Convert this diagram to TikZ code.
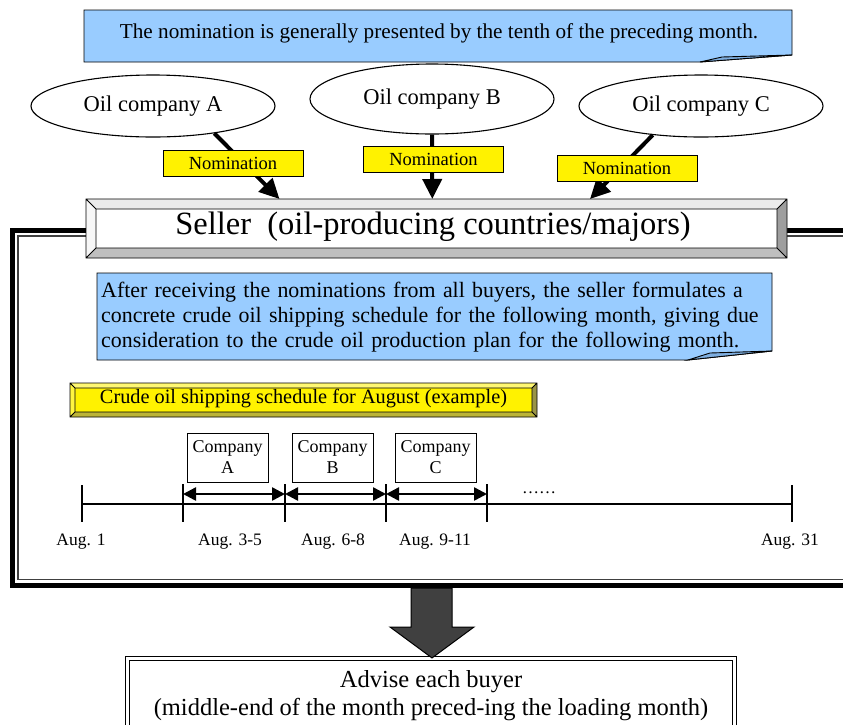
\documentclass[tikz,border=0pt]{standalone}
\usepackage{fontspec}
\setmainfont{Liberation Serif}
\usetikzlibrary{arrows.meta,calc,shapes.geometric,backgrounds}

\definecolor{calloutblue}{HTML}{99CCFF}
\definecolor{flapblue}{HTML}{7EAEE0}
\definecolor{arrowgray}{HTML}{404040}

% bevelled rim drawn inside a rectangular node: name, depth, top, left, bottom, right fills
\newcommand{\bevelrim}[6]{%
  \fill[#3] (#1.north west) -- (#1.north east) -- ($(#1.north east)+(-#2,#2)$) -- ($(#1.north west)+(#2,#2)$) -- cycle;
  \fill[#4] (#1.north west) -- ($(#1.north west)+(#2,#2)$) -- ($(#1.south west)+(#2,-#2)$) -- (#1.south west) -- cycle;
  \fill[#5] (#1.south west) -- ($(#1.south west)+(#2,-#2)$) -- ($(#1.south east)+(-#2,-#2)$) -- (#1.south east) -- cycle;
  \fill[#6] (#1.south east) -- ($(#1.south east)+(-#2,-#2)$) -- ($(#1.north east)+(-#2,#2)$) -- (#1.north east) -- cycle;
  \draw[line width=0.9pt] (#1.north west) rectangle (#1.south east)
    ($(#1.north west)+(#2,#2)$) rectangle ($(#1.south east)+(-#2,-#2)$)
    (#1.north west) -- ++(#2,#2) (#1.north east) -- ++(-#2,#2)
    (#1.south east) -- ++(-#2,-#2) (#1.south west) -- ++(#2,-#2);
}

% note with a folded lower right corner, drawn round a node: name, fold length, fold rise
\newcommand{\foldednote}[3]{%
  \draw[line width=0.9pt, fill=calloutblue] (#1.north west) -- (#1.north east)
    -- ($(#1.south east)+(0,-#3)$) -- ($(#1.south east)+(-#2,0)$) -- (#1.south west) -- cycle;
  \draw[line width=0.9pt, fill=flapblue] ($(#1.south east)+(-#2,0)$)
    -- ($(#1.south east)+(-#2+22,-#3+2)$) -- ($(#1.south east)+(0,-#3)$) -- cycle;
}

\tikzset{
  calloutnote/.style={inner sep=0pt, outer sep=0pt},
  company/.style={ellipse, draw, line width=1.1pt, fill=white, inner sep=0pt,
    minimum width=244pt, minimum height=62pt, font=\fontsize{22.5}{26}\selectfont},
  nomtag/.style={draw, line width=1pt, fill=yellow, inner sep=0pt,
    minimum width=140pt, minimum height=26pt, font=\fontsize{18.5}{21}\selectfont},
  nomarrow/.style={line width=4pt, -{Triangle[length=20pt,width=19pt]}},
  bevelnode/.style={inner sep=0pt, outer sep=0pt},
  buyerbox/.style={draw, line width=1pt, inner sep=0pt, minimum width=81pt,
    minimum height=49pt, align=center, font=\fontsize{18}{21}\selectfont},
  slot/.style={line width=2.5pt, {Triangle[length=13pt,width=13pt]}-{Triangle[length=13pt,width=13pt]}},
  datelbl/.style={inner sep=0pt, font=\fontsize{17.5}{20}\selectfont},
  thicktick/.style={line width=2.5pt},
  thintick/.style={line width=1.2pt},
  framethick/.style={line width=5pt},
  framethin/.style={line width=1.3pt, draw=black!75},
}

\begin{document}
\begin{tikzpicture}[x=1pt,y=-1pt]
\useasboundingbox[fill=white] (0,0) rectangle (843,724);

% top note
\node[calloutnote, minimum width=708pt, minimum height=52pt] (topnote) at (438,36) {};
\foldednote{topnote}{92}{7}
\node[inner sep=0pt, font=\fontsize{21.2}{25}\selectfont] (toptext) at (439,33)
  {The nomination is generally presented by the tenth of the preceding month.};

% frame enclosing the seller's work
\draw[framethick] (90,230) -- (12,230) -- (12,585.5) -- (850,585.5);
\draw[framethick] (780,230) -- (850,230);
\draw[framethin] (90,236) -- (18,236) -- (18,579.5) -- (850,579.5);
\draw[framethin] (780,236) -- (850,236);

% seller
\node[bevelnode, fill=white, minimum width=701pt, minimum height=59pt] (seller) at (436.5,228.5) {};
\bevelrim{seller}{10}{black!8}{black!3}{black!25}{black!38}
\node[inner sep=0pt, font=\fontsize{32.5}{36}\selectfont] (sellertext) at (433,227)
  {Seller\ \ (oil-producing countries/majors)};

% buyers
\node[company] (oA) at (153,106) {Oil company A};
\node[company, minimum height=70pt] (oB) at (432,99) {Oil company B};
\node[company] (oC) at (701,106) {Oil company C};

\coordinate (sA) at ($(seller.north west)!0.276!(seller.north east)$);
\coordinate (sB) at ($(seller.north west)!0.494!(seller.north east)$);
\coordinate (sC) at ($(seller.north west)!0.719!(seller.north east)$);

\draw[nomarrow] (oA.-24) -- (sA);
\draw[nomarrow] (oB.south) -- (sB);
\draw[nomarrow] (oC.-149) -- (sC);

\node[nomtag] (nA) at (233,163) {Nomination};
\node[nomtag] (nB) at (433.5,159.5) {Nomination};
\node[nomtag] (nC) at (627,168) {Nomination};

% seller's note
\node[calloutnote, minimum width=675pt, minimum height=87pt] (sellernote) at (434.5,316.5) {};
\foldednote{sellernote}{84}{9}
\node[inner sep=0pt, text width=668pt, align=left, font=\fontsize{21.9}{25}\selectfont,
  anchor=north west] (notetext) at (101,282)
  {After receiving the nominations from all buyers, the seller formulates a\\
   concrete crude oil shipping schedule for the following month, giving due\\
   consideration to the crude oil production plan for the following month.};

% schedule title
\node[bevelnode, fill=yellow, minimum width=467pt, minimum height=34pt] (ship) at (303.5,400) {};
\bevelrim{ship}{5}{yellow!55!white}{yellow!75!white}{yellow!70!black}{yellow!55!black}
\node[inner sep=0pt, font=\fontsize{20.3}{24}\selectfont] (shiptext) at (303.5,399)
  {Crude oil shipping schedule for August (example)};

% time line
\coordinate (d1) at (82,504);
\coordinate (d3) at (183,504);
\coordinate (d6) at (285,504);
\coordinate (d9) at (386,504);
\coordinate (d12) at (487,504);
\coordinate (d31) at (792,504);
\draw[line width=2.5pt] (d1) -- (d31);
\draw[thicktick] (d1) ++(0,-19) -- ++(0,37);
\draw[thintick] (d3) ++(0,-20) -- ++(0,38);
\draw[line width=1.6pt] (d6) ++(0,-20) -- ++(0,38);
\draw[thintick] (d9) ++(0,-20) -- ++(0,38);
\draw[thintick] (d12) ++(0,-20) -- ++(0,38);
\draw[thicktick] (d31) ++(0,-19) -- ++(0,37);

\draw[slot] ($(d3)+(0,-10)$) -- ($(d6)+(0,-10)$);
\draw[slot] ($(d6)+(0,-10)$) -- ($(d9)+(0,-10)$);
\draw[slot] ($(d9)+(0,-10)$) -- ($(d12)+(0,-10)$);

\node[buyerbox] (cA) at (227.5,457.5) {Company\\A};
\node[buyerbox] (cB) at (332.5,457.5) {Company\\B};
\node[buyerbox] (cC) at (435.5,457.5) {Company\\C};

\node[inner sep=0pt, font=\fontsize{17}{20}\selectfont] (more) at (539,493) {\dots\dots};

\node[datelbl] (l1) at (81,542) {Aug. 1};
\node[datelbl] (l3) at (230,542) {Aug. 3-5};
\node[datelbl] (l6) at (333,542) {Aug. 6-8};
\node[datelbl] (l9) at (435,542) {Aug. 9-11};
\node[datelbl] (l31) at (790,542) {Aug. 31};

% advice to buyers
\node[draw, double, line width=1.1pt, double distance=2.6pt, inner sep=0pt,
  minimum width=607pt, minimum height=75pt, align=center,
  font=\fontsize{24.5}{28}\selectfont] (advise) at (431,696)
  {Advise each buyer\\(middle-end of the month preced-ing the loading month)};

% block arrow from the frame down to the advice
\draw[line width=1pt, fill=arrowgray] (411,588) -- (452,588) -- (452,627) -- (474,627)
  -- (advise.north -| 432,0) -- (390,627) -- (411,627) -- cycle;
\end{tikzpicture}
\end{document}
